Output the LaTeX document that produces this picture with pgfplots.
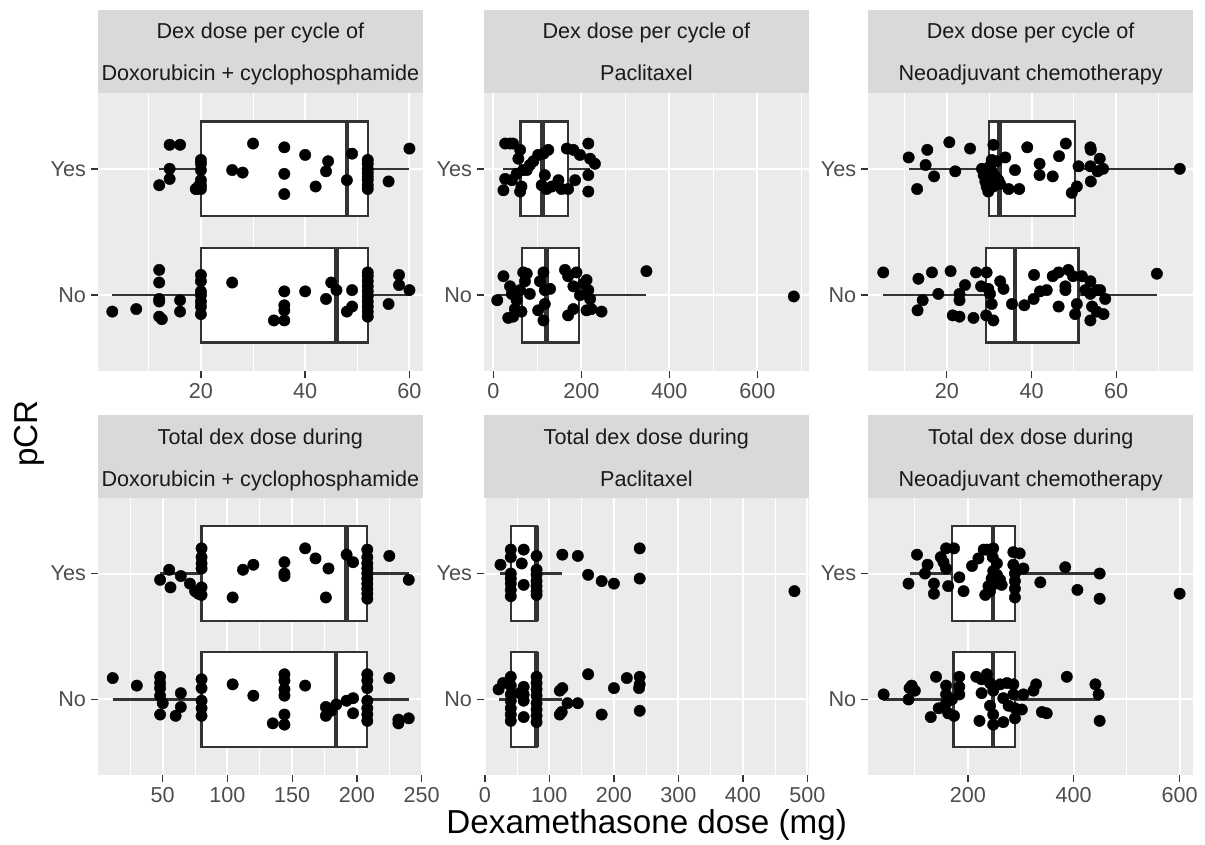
\documentclass[border=0pt]{standalone}
\usepackage{pgfplots}
\pgfplotsset{compat=1.18}
\usepgfplotslibrary{statistics}
\usepackage{fontspec}
\setmainfont{Liberation Sans}
\definecolor{panelbg}{HTML}{EBEBEB}
\definecolor{stripbg}{HTML}{D9D9D9}
\definecolor{ticktext}{HTML}{4D4D4D}
\definecolor{tickc}{HTML}{333333}
\definecolor{striptext}{HTML}{1A1A1A}
\definecolor{boxc}{HTML}{333333}
\pgfplotsset{
  facet/.style={
    scale only axis, width=162.65pt, anchor=north west,
    ymin=0.4, ymax=2.6, ytick={1,2}, yticklabels={No,Yes},
    axis line style={draw=none},
    axis background/.style={fill=panelbg},
    grid=both,
    major grid style={white, line width=1pt},
    minor grid style={white, line width=0.5pt},
    tick align=outside, tick pos=left,
    major tick length=3.3pt, minor tick length=0pt,
    tick style={draw=tickc, line width=0.7pt},
    ticklabel style={font=\fontsize{10.8}{12}\selectfont, text=ticktext},
    xticklabel style={inner sep=0pt, yshift=-2.5pt},
    yticklabel style={inner sep=0pt, xshift=-2.4pt},
    /pgf/number format/assume math mode=true,
    boxplot/box extend=0.75, boxplot/whisker extend=0,
    boxplot/draw direction=x,
    boxplot/every median/.style={line width=2.2pt},
  },
  pts/.style={only marks, mark=*, mark size=2.85pt, draw=black, fill=black, mark options={fill=black, draw=black, line width=0.2pt}},
  bx/.style={draw=boxc, fill=white, line width=1.1pt, solid, mark=none},
}
\newcommand{\striptext}{\fontsize{10.8}{12}\selectfont\color{striptext}}
\begin{document}
\begin{tikzpicture}
\useasboundingbox (0,0) rectangle (602.5pt,-422.5pt);
% strips
\fill[stripbg] (48.85pt,-5pt) rectangle ++(162.65pt,-41.5pt);
\fill[stripbg] (241.85pt,-5pt) rectangle ++(162.65pt,-41.5pt);
\fill[stripbg] (434pt,-5pt) rectangle ++(162.65pt,-41.5pt);
\fill[stripbg] (48.85pt,-207.5pt) rectangle ++(162.65pt,-41.5pt);
\fill[stripbg] (241.85pt,-207.5pt) rectangle ++(162.65pt,-41.5pt);
\fill[stripbg] (434pt,-207.5pt) rectangle ++(162.65pt,-41.5pt);
\node[anchor=base, inner sep=0pt] at (130.18pt,-19.5pt) {\striptext Dex dose per cycle of};
\node[anchor=base, inner sep=0pt] at (130.18pt,-40.5pt) {\striptext Doxorubicin + cyclophosphamide};
\node[anchor=base, inner sep=0pt] at (323.18pt,-19.5pt) {\striptext Dex dose per cycle of};
\node[anchor=base, inner sep=0pt] at (323.18pt,-40.5pt) {\striptext Paclitaxel};
\node[anchor=base, inner sep=0pt] at (515.33pt,-19.5pt) {\striptext Dex dose per cycle of};
\node[anchor=base, inner sep=0pt] at (515.33pt,-40.5pt) {\striptext Neoadjuvant chemotherapy};
\node[anchor=base, inner sep=0pt] at (130.18pt,-222pt) {\striptext Total dex dose during};
\node[anchor=base, inner sep=0pt] at (130.18pt,-243pt) {\striptext Doxorubicin + cyclophosphamide};
\node[anchor=base, inner sep=0pt] at (323.18pt,-222pt) {\striptext Total dex dose during};
\node[anchor=base, inner sep=0pt] at (323.18pt,-243pt) {\striptext Paclitaxel};
\node[anchor=base, inner sep=0pt] at (515.33pt,-222pt) {\striptext Total dex dose during};
\node[anchor=base, inner sep=0pt] at (515.33pt,-243pt) {\striptext Neoadjuvant chemotherapy};
% axis titles
\node[anchor=base, inner sep=0pt] at (323.35pt,-416.5pt) {\fontsize{16.6}{18}\selectfont Dexamethasone dose (mg)};
\node[anchor=base, inner sep=0pt, rotate=90] at (19pt,-216.7pt) {\fontsize{16.6}{18}\selectfont pCR};

% ---------- Panel 1 ----------
\begin{axis}[facet, at={(48.85pt,-46.5pt)}, height=139pt, xmin=0.2, xmax=62.6,
  xtick={20,40,60}, minor xtick={10,30,50}]
\addplot[bx, boxplot prepared={lower whisker=12, lower quartile=20, median=48, upper quartile=52, upper whisker=60, draw position=2}] coordinates {};
\addplot[bx, boxplot prepared={lower whisker=3, lower quartile=20, median=46, upper quartile=52, upper whisker=60, draw position=1}] coordinates {};
\addplot[pts] coordinates {
(14,2.19) (16,2.19) (14,2.00) (14,1.92) (12,1.87)
(20,2.07) (20,2.04) (20,1.99) (20,1.91) (20,1.87) (20,1.84)
(19,1.84) (19.2,1.84) (19.5,1.86)
(26,1.99) (28,1.97) (30,2.20) (36,2.17) (36,1.96) (36,1.80)
(40,2.11) (44.4,2.06) (44,1.98) (42,1.86) (48,1.91) (49,2.12)
(52,2.07) (52,2.04) (52,2.00) (52,1.97) (52,1.94) (52,1.91) (52,1.87) (52,1.84)
(56,1.90) (60,2.16)};
\addplot[pts] coordinates {
(3,0.87) (7.6,0.89)
(12,1.20) (12,1.10) (12,0.97) (12,0.95) (12,0.83) (12.5,0.81)
(16,0.96) (16,0.87)
(20,1.16) (20,1.11) (20,1.03) (20,1.00) (20,0.95) (20,0.91) (20,0.85)
(26,1.10) (36,1.03) (36,0.92) (36,0.88) (36,0.80) (34,0.80)
(40,1.03) (44,0.97) (45,1.10) (46,1.04) (48,0.87) (49,0.91) (49,1.04)
(52,1.18) (52,1.15) (52,1.11) (52,1.07) (52,1.03) (52,0.99) (52,0.95) (52,0.91) (52,0.87) (52,0.83)
(56,0.93) (58,1.16) (58,1.08) (60,1.04)};
\end{axis}

% ---------- Panel 2 ----------
\begin{axis}[facet, at={(241.85pt,-46.5pt)}, height=139pt, xmin=-21.8, xmax=717.5,
  xtick={0,200,400,600}, minor xtick={100,300,500,700}]
\addplot[bx, boxplot prepared={lower whisker=23, lower quartile=62, median=112, upper quartile=170, upper whisker=220, draw position=2}] coordinates {};
\addplot[bx, boxplot prepared={lower whisker=9, lower quartile=66, median=121, upper quartile=195, upper whisker=348, draw position=1}] coordinates {};
\addplot[pts] coordinates {
(27,2.20) (38,2.20) (45,2.20) (61,2.15) (57,2.08)
(91,2.06) (102,2.11) (114,2.12) (125,2.15)
(167,2.16) (182,2.15) (197,2.11) (216,2.20) (220,2.08) (231,2.04)
(68,1.99) (53,1.96) (27,1.92) (23,1.83) (42,1.91) (64,1.86) (61,1.82)
(117,1.95) (110,1.87) (121,1.84) (133,1.86) (148,1.91) (155,1.84) (170,1.84) (186,1.91)
(216,1.95) (216,1.82) (83,2.03) (76,1.99)};
\addplot[pts] coordinates {
(9,0.96) (23,1.15) (38,1.07) (34,0.82) (45,0.83) (49,0.89) (42,1.01) (53,0.96) (61,1.04)
(68,1.18) (76,1.17) (72,1.11) (64,0.87) (83,1.01)
(102,0.88) (114,1.18) (106,1.11) (117,1.04) (117,0.93) (114,0.80) (129,1.05)
(163,1.20) (170,1.15) (189,1.18) (182,1.07) (197,1.00) (205,1.09) (212,1.12) (216,1.04)
(220,0.97) (212,0.88) (223,0.89) (246,0.87) (170,0.84) (182,0.89)
(348,1.19) (683,0.99)};
\end{axis}

% ---------- Panel 3 ----------
\begin{axis}[facet, at={(434pt,-46.5pt)}, height=139pt, xmin=1.4, xmax=78.2,
  xtick={20,40,60}, minor xtick={10,30,50,70}]
\addplot[bx, boxplot prepared={lower whisker=11, lower quartile=30, median=32.4, upper quartile=50.3, upper whisker=75, draw position=2}] coordinates {};
\addplot[bx, boxplot prepared={lower whisker=5, lower quartile=29.3, median=36.1, upper quartile=51.1, upper whisker=69.6, draw position=1}] coordinates {};
\addplot[pts] coordinates {
(11,2.09) (13,1.84) (15,2.03) (15.4,2.15) (17,1.94) (20.6,2.21) (22,1.98) (25.5,2.16)
(28.3,2.00) (28.7,1.95) (29.1,1.90) (29.4,1.86) (29.8,1.82) (30.2,2.02) (30.6,1.98) (31,2.19)
(31.4,1.94) (31.8,2.06) (32.2,1.91) (32.6,1.88) (31,1.86) (29.8,1.96) (30.6,2.07)
(33.8,2.09) (34.6,1.84) (37.1,1.84) (36.1,1.99) (39,2.17) (41.9,2.04) (41.9,1.95) (45,1.94)
(46.5,2.10) (48.1,2.20) (49.5,1.81) (50.7,1.86) (51.1,2.02)
(53.9,2.17) (54,2.15) (53.9,2.02) (54,1.90) (56.1,2.08) (56.9,2.00) (55.6,1.98)
(75,2.00)};
\addplot[pts] coordinates {
(5,1.18) (13.3,1.13) (13.1,0.88) (14.3,0.96) (16.5,1.18) (18,1.01) (20.9,1.19) (21.4,0.84)
(23,0.83) (23,1.01) (23,0.96) (24.3,1.08) (26.3,0.82)
(26.9,1.18) (28.1,1.07) (29.4,1.18) (29.8,1.05) (30.2,1.01) (30.6,0.93) (29.3,0.84) (31,0.80)
(32.6,1.11) (33.4,1.05) (35.4,0.93)
(38.3,0.92) (40.6,1.16) (40.5,0.97) (42,1.03) (43.6,1.04) (45,1.15) (46.4,1.18) (48,1.07)
(48,1.04) (48.7,1.20) (49.8,1.15) (46.4,0.91)
(50.3,0.85) (50.7,0.93) (51.9,1.15) (52.7,1.04) (53.9,1.11) (53.9,1.01) (54.3,0.91) (55.4,1.04)
(56.2,1.04) (53.9,0.80) (55.4,0.87) (57,0.85) (57.4,0.97)
(69.6,1.17)};
\end{axis}

% ---------- Panel 4 ----------
\begin{axis}[facet, at={(48.85pt,-249pt)}, height=138.5pt, xmin=-0.2, xmax=251,
  xtick={50,100,150,200,250}, minor xtick={25,75,125,175,225}]
\addplot[bx, boxplot prepared={lower whisker=48, lower quartile=80, median=192, upper quartile=208, upper whisker=240, draw position=2}] coordinates {};
\addplot[bx, boxplot prepared={lower whisker=12, lower quartile=80, median=184, upper quartile=208, upper whisker=240, draw position=1}] coordinates {};
\addplot[pts] coordinates {
(48,1.95) (55,2.03) (56,1.89) (64,1.98) (71,1.92) (75,1.86) (77.5,1.84) (80,1.83) (80,1.89)
(80,2.20) (80,2.13) (80,2.08) (80,2.04)
(104,1.81) (112,2.03) (120,2.07) (144,2.09) (144,2.00) (144,1.98) (160,2.20) (168,2.12)
(178,2.04) (176,1.81) (192,2.15) (197,2.09)
(208,2.19) (208,2.13) (208,2.08) (208,2.04) (208,2.00) (208,1.96) (208,1.92) (208,1.88) (208,1.84) (208,1.80)
(225,2.14) (240,1.95)};
\addplot[pts] coordinates {
(11.4,1.17) (30,1.11) (48,1.18) (48,1.13) (48,1.09) (48,1.03) (50,0.97) (48,0.88)
(60,0.87) (64,1.05) (64,0.94)
(80,1.16) (80,1.09) (80,0.99) (80,0.93) (80,0.87)
(104,1.12) (120,1.03) (144,1.20) (144,1.15) (144,1.08) (144,1.03) (144,0.88) (144,0.80) (135,0.81)
(160,1.11) (176,0.94) (180,0.91) (184,0.96) (176,0.87)
(192,0.99) (197,1.01) (197,0.89)
(208,1.20) (208,1.15) (208,1.09) (208,0.99) (208,0.93) (208,0.88) (208,0.83)
(225,1.17) (232,0.84) (232,0.81) (240,0.85)};
\end{axis}

% ---------- Panel 5 ----------
\begin{axis}[facet, at={(241.85pt,-249pt)}, height=138.5pt, xmin=-2, xmax=502.6,
  xtick={0,100,200,300,400,500}, minor xtick={50,150,250,350,450}]
\addplot[bx, boxplot prepared={lower whisker=24, lower quartile=40, median=80, upper quartile=80, upper whisker=120, draw position=2}] coordinates {};
\addplot[bx, boxplot prepared={lower whisker=21, lower quartile=40, median=80, upper quartile=80, upper whisker=120, draw position=1}] coordinates {};
\addplot[pts] coordinates {
(24,2.07) (40,2.19) (40,2.13) (40,2.00) (40,1.96) (40,1.92) (40,1.87) (40,1.82)
(60,2.19) (60,1.91) (57,2.08)
(80,2.14) (80,2.03) (80,1.99) (80,1.94) (80,1.90) (80,1.86) (80,1.83)
(120,2.15) (144,2.14) (160,1.99) (181,1.94) (200,1.92) (240,2.20) (240,1.96) (480,1.86)};
\addplot[pts] coordinates {
(21,1.08) (28,1.13) (40,1.18) (40,1.11) (40,1.04) (40,0.99) (40,0.93) (40,0.88) (40,0.83)
(60,1.10) (60,1.04) (60,0.99) (60,0.86) (54,1.05)
(80,1.18) (80,1.13) (80,1.08) (80,1.03) (80,0.97) (80,0.92) (80,0.87) (80,0.82)
(116,1.07) (120,1.09) (128,0.97) (119,0.90) (116,0.88) (144,0.97)
(160,1.20) (200,1.09) (181,0.88) (220,1.17) (240,1.18) (240,1.12) (239,1.09) (240,0.91)};
\end{axis}

% ---------- Panel 6 ----------
\begin{axis}[facet, at={(434pt,-249pt)}, height=138.5pt, xmin=11.5, xmax=625.9,
  xtick={200,400,600}, minor xtick={100,300,500}]
\addplot[bx, boxplot prepared={lower whisker=90, lower quartile=170, median=248, upper quartile=289, upper whisker=449, draw position=2}] coordinates {};
\addplot[bx, boxplot prepared={lower whisker=40, lower quartile=173, median=248, upper quartile=289, upper whisker=449, draw position=1}] coordinates {};
\addplot[pts] coordinates {
(88,1.92) (104,2.15) (124,2.07) (119,2.00) (136,1.92) (136,1.84) (149,2.13) (154,2.09)
(159,2.20) (159,2.04) (163,1.90) (174,2.20)
(184,1.97) (192,1.86) (208,2.06) (220,2.12) (230,2.19) (236,2.19) (248,2.20) (247,2.13)
(239,1.90) (233,1.83) (242,1.86) (248,2.02) (255,1.99) (261,1.95) (252,1.92) (245,1.96) (255,2.08) (264,1.91)
(286,2.17) (298,2.16) (286,2.07) (289,2.00) (289,1.94) (289,1.88) (289,1.81) (305,2.04)
(337,1.93) (384,2.05) (407,1.87) (449,2.00) (449,1.80) (600,1.84)};
\addplot[pts] coordinates {
(41,1.04) (88,1.00) (90,1.09) (94,1.11) (100,1.07) (130,0.86) (140,1.18) (145,0.93)
(159,1.11) (159,1.04) (159,0.97) (163,0.89) (170,1.00) (174,0.87) (184,1.18) (184,1.10) (184,1.04)
(216,1.18) (226,1.16) (236,1.20) (226,1.05) (222,0.83) (242,1.13) (248,1.07) (242,0.95)
(248,0.88) (248,0.80) (261,1.12) (267,0.82) (267,1.01) (274,1.13) (277,0.95) (286,1.12)
(286,1.04) (289,0.85) (289,0.93) (305,1.04) (302,0.92) (324,1.07) (329,1.12)
(340,0.90) (349,0.89) (387,1.18) (441,1.12) (447,1.04) (449,0.83)};
\end{axis}
\end{tikzpicture}
\end{document}
